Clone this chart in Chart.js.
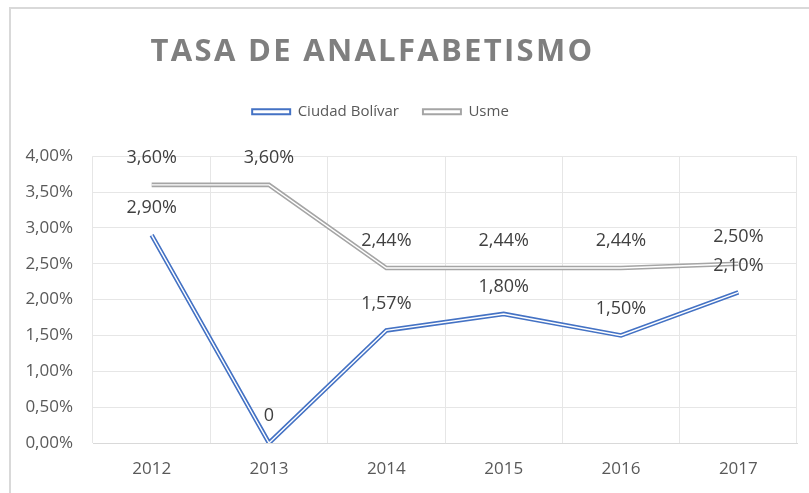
<!DOCTYPE html>
<html>
<head>
<meta charset="utf-8">
<script src="https://cdn.jsdelivr.net/npm/chart.js@4.4.1/dist/chart.umd.min.js"></script>
<style>
  html, body { margin: 0; padding: 0; background: #fff; overflow: hidden; }
  #wrap { position: relative; width: 809px; height: 493px; }
  #frame { position: absolute; left: 9px; top: 7px; width: 820px; height: 520px; border: 2px solid #d9d9d9; box-sizing: border-box; pointer-events: none; }
  canvas { position: absolute; left: 0; top: 0; }
</style>
</head>
<body>
<div id="wrap">
  <canvas id="c" width="809" height="493"></canvas>
  <div id="frame"></div>
</div>
<script>
const titleText = 'TASA DE ANALFABETISMO';
const years = ['2012', '2013', '2014', '2015', '2016', '2017'];
const ciudadBolivar = [2.90, 0, 1.57, 1.80, 1.50, 2.10];
const usme = [3.60, 3.60, 2.44, 2.44, 2.44, 2.50];
const yTicks = [0, 0.5, 1, 1.5, 2, 2.5, 3, 3.5, 4];

const BLUE = '#4472c4';
const GRAY = '#a5a5a5';

function fmtPct(v) { return v.toFixed(2).replace('.', ',') + '%'; }
function fmtLabel(v) { return v === 0 ? '0' : fmtPct(v); }

const tweaks = {
  id: 'tweaks',
  afterInit(chart) {
    const lg = chart.legend;
    if (lg) {
      const f = lg.fit;
      lg.fit = function () { f.call(this); this.height += 27; };
      const ld = lg.draw;
      lg.draw = function () {
        const ctx = this.ctx;
        ctx.save();
        ctx.translate(-23, 0);
        ld.call(this);
        ctx.restore();
      };
    }
    const tb = chart.titleBlock;
    if (tb) {
      const d = tb.draw;
      tb.draw = function () {
        const ctx = this.ctx;
        ctx.save();
        ctx.translate(-31, 0);
        try { ctx.letterSpacing = '2.3px'; } catch (e) {}
        d.call(this);
        ctx.restore();
      };
    }
  },
  afterDatasetsDraw(chart) {
    const ctx = chart.ctx;
    ctx.save();
    ctx.font = '18px "Open Sans", sans-serif';
    ctx.fillStyle = '#404040';
    ctx.textAlign = 'center';
    ctx.textBaseline = 'middle';
    chart.data.datasets.forEach((ds, i) => {
      if (!ds.showLabels) return;
      const meta = chart.getDatasetMeta(i);
      meta.data.forEach((pt, j) => {
        ctx.fillText(fmtLabel(ds.data[j]), pt.x, pt.y - 27);
      });
    });
    ctx.restore();
  }
};

new Chart(document.getElementById('c'), {
  type: 'line',
  data: {
    labels: years,
    datasets: [
      { label: 'Ciudad Bolívar', data: ciudadBolivar, borderColor: BLUE, backgroundColor: '#fff', borderWidth: 4.6, pointRadius: 0, borderJoinStyle: 'miter', tension: 0, showLabels: true, order: 4 },
      { label: '_cb_inner', data: ciudadBolivar, borderColor: '#fff', borderWidth: 1.4, pointRadius: 0, borderJoinStyle: 'miter', tension: 0, order: 3 },
      { label: 'Usme', data: usme, borderColor: GRAY, backgroundColor: '#fff', borderWidth: 4.6, pointRadius: 0, borderJoinStyle: 'miter', tension: 0, showLabels: true, order: 2 },
      { label: '_usme_inner', data: usme, borderColor: '#fff', borderWidth: 1.4, pointRadius: 0, borderJoinStyle: 'miter', tension: 0, order: 1 }
    ]
  },
  options: {
    responsive: false,
    animation: false,
    events: [],
    layout: { padding: { left: 10, right: 12, top: 0, bottom: 0 } },
    plugins: {
      title: {
        display: true,
        text: titleText,
        color: '#7f7f7f',
        font: { family: '"Open Sans", sans-serif', size: 31, weight: 'bold', lineHeight: 1.2 },
        padding: { top: 34, bottom: 9 }
      },
      legend: {
        display: true,
        position: 'top',
        labels: {
          filter: (item) => !item.text.startsWith('_'),
          generateLabels: (chart) => chart.data.datasets.map((ds, i) => ({
            text: ds.label,
            fillStyle: '#fff',
            strokeStyle: ds.borderColor,
            lineWidth: 2,
            hidden: false,
            datasetIndex: i,
            fontColor: '#595959'
          })),
          boxWidth: 38,
          boxHeight: 5,
          padding: 24,
          color: '#595959',
          font: { family: '"Open Sans", sans-serif', size: 15 }
        }
      },
      tooltip: { enabled: false }
    },
    scales: {
      x: {
        offset: true,
        grid: { offset: true, color: '#e6e6e6', drawTicks: false },
        border: { color: '#d9d9d9' },
        ticks: { color: '#595959', padding: 16, font: { family: '"Open Sans", sans-serif', size: 17 } },
        afterFit: (s) => { s.height = 50; }
      },
      y: {
        min: 0,
        max: 4,
        afterBuildTicks: (s) => { s.ticks = yTicks.map(v => ({ value: v })); },
        grid: { color: '#e6e6e6', drawTicks: false },
        border: { display: false },
        ticks: { color: '#595959', padding: 20, font: { family: '"Open Sans", sans-serif', size: 17 }, callback: (v) => fmtPct(v) },
        afterFit: (s) => { s.width = 83; }
      }
    }
  },
  plugins: [tweaks]
});
</script>
</body>
</html>
